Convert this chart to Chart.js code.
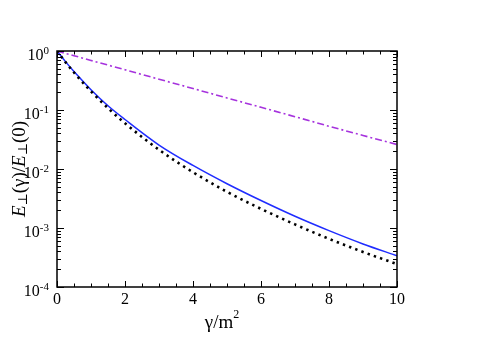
<!DOCTYPE html>
<html>
<head>
<meta charset="utf-8">
<script src="https://cdn.jsdelivr.net/npm/chart.js@4.4.0/dist/chart.umd.min.js"></script>
<style>
  html, body { margin: 0; padding: 0; background: #fff; }
  #wrap { width: 480px; height: 339px; position: relative; }
  #warm { position: absolute; left: -1000px; top: 0; font-family: "Liberation Serif"; }
</style>
</head>
<body>
<div id="wrap"><canvas id="chart" width="480" height="339"></canvas></div>
<div id="warm">10 γ/m <i>E</i> ⊥ (0)</div>
<script>
// gamma/m^2 sample positions
var gammas = [0, 0.25, 0.5, 1, 1.5, 2, 3, 4, 5, 6, 7, 8, 9, 10];
// E_perp(gamma)/E_perp(0)
var solidBlue = [1, 0.660, 0.448, 0.221, 0.118, 0.0690, 0.0255, 0.01148, 0.00562, 0.00292, 0.00158, 0.000902, 0.000537, 0.000339];
var dottedBlack = [1, 0.648, 0.432, 0.207, 0.1075, 0.0596, 0.0212, 0.00883, 0.00410, 0.00211, 0.00115, 0.000655, 0.000393, 0.000244];
var dashDotViolet = [1, 0.912, 0.833, 0.693, 0.577, 0.481, 0.333, 0.231, 0.160, 0.111, 0.077, 0.053, 0.037, 0.026];

var xTicks = [0, 2, 4, 6, 8, 10];
var yExponents = [0, -1, -2, -3, -4];

function pts(ys) {
  return gammas.map(function (g, i) { return { x: g, y: ys[i] }; });
}

var serif = '"Liberation Serif", "DejaVu Serif", serif';

var frame = {
  id: 'frame',
  afterDraw: function (chart) {
    var c = chart.ctx, a = chart.chartArea;
    var xs = chart.scales.x, ys = chart.scales.y;
    c.save();
    c.strokeStyle = '#000';
    c.lineWidth = 1.5;
    c.strokeRect(a.left, a.top, a.right - a.left, a.bottom - a.top);

    c.lineWidth = 1;
    // x ticks, every 0.5, major at even numbers
    for (var v = 0; v <= 10.001; v += 0.5) {
      var px = Math.round(xs.getPixelForValue(v)) + 0.5;
      var len = (v % 2 === 0) ? 6 : 3.5;
      c.beginPath();
      c.moveTo(px, a.bottom); c.lineTo(px, a.bottom - len);
      c.moveTo(px, a.top); c.lineTo(px, a.top + len);
      c.stroke();
    }
    // y ticks (log)
    for (var e = -4; e <= 0; e++) {
      for (var m = 1; m <= 9; m++) {
        if (e === 0 && m > 1) break;
        var py = Math.round(ys.getPixelForValue(m * Math.pow(10, e))) + 0.5;
        var l = m === 1 ? 7 : 4;
        c.beginPath();
        c.moveTo(a.left, py); c.lineTo(a.left + l, py);
        c.moveTo(a.right, py); c.lineTo(a.right - l, py);
        c.stroke();
      }
    }

    c.fillStyle = '#000';
    // x tick labels
    c.font = '16px ' + serif;
    c.textAlign = 'center';
    c.textBaseline = 'alphabetic';
    xTicks.forEach(function (t) {
      c.fillText(String(t), xs.getPixelForValue(t), a.bottom + 17);
    });
    // y tick labels 10^k
    yExponents.forEach(function (k) {
      var py = ys.getPixelForValue(Math.pow(10, k));
      var exp = k === 0 ? '0' : '-' + String(-k);
      c.font = '11px ' + serif;
      var ew = c.measureText(exp).width;
      c.textAlign = 'left';
      c.fillText(exp, a.left - 8 - ew, py + 3);
      c.font = '16px ' + serif;
      c.textAlign = 'right';
      c.fillText('10', a.left - 8 - ew, py + 9);
    });
    // x title
    c.font = '19px ' + serif;
    c.textAlign = 'left';
    var base = '\u03b3/m';
    var bw = c.measureText(base).width;
    var cx = 222;
    c.fillText(base, cx - bw / 2 - 3, 328);
    c.font = '12px ' + serif;
    c.fillText('2', cx + bw / 2 - 3, 318);

    // y title, rotated
    c.translate(19, (a.top + a.bottom) / 2);
    c.rotate(-Math.PI / 2);
    var parts = [
      ['italic 19px ' + serif, 'E', 0],
      ['13px ' + serif, '\u22a5', 4],
      ['19px ' + serif, '(\u03b3)/', 0],
      ['italic 19px ' + serif, 'E', 0],
      ['13px ' + serif, '\u22a5', 4],
      ['19px ' + serif, '(0)', 0]
    ];
    var total = 0;
    parts.forEach(function (p) { c.font = p[0]; total += c.measureText(p[1]).width; });
    var x0 = -total / 2;
    c.textAlign = 'left';
    c.textBaseline = 'middle';
    parts.forEach(function (p) {
      c.font = p[0];
      c.fillText(p[1], x0, p[2] + 1);
      x0 += c.measureText(p[1]).width;
    });
    c.restore();
  }
};

var ctx = document.getElementById('chart').getContext('2d');
var chart = new Chart(ctx, {
  type: 'line',
  data: {
    datasets: [
      {
        label: 'dash-dot',
        data: pts(dashDotViolet),
        borderColor: '#a633dd',
        borderWidth: 1.6,
        borderDash: [7, 3, 2, 3],
        pointRadius: 0,
        fill: false
      },
      {
        label: 'dotted',
        data: pts(dottedBlack),
        borderColor: '#000',
        borderWidth: 2.6,
        borderDash: [2.4, 4.2],
        pointRadius: 0,
        cubicInterpolationMode: 'monotone',
        fill: false
      },
      {
        label: 'solid',
        data: pts(solidBlue),
        borderColor: '#1f2cff',
        borderWidth: 1.5,
        pointRadius: 0,
        cubicInterpolationMode: 'monotone',
        fill: false
      }
    ]
  },
  options: {
    responsive: false,
    animation: false,
    events: [],
    layout: { padding: { left: 57, right: 83, top: 51, bottom: 52 } },
    plugins: { legend: { display: false }, tooltip: { enabled: false } },
    scales: {
      x: { type: 'linear', min: 0, max: 10, display: false },
      y: { type: 'logarithmic', min: 1e-4, max: 1, display: false }
    }
  },
  plugins: [frame]
});

if (document.fonts) {
  document.fonts.load('16px "Liberation Serif"').then(function () { chart.draw(); });
  document.fonts.load('italic 19px "Liberation Serif"').then(function () { chart.draw(); });
  document.fonts.ready.then(function () { chart.draw(); });
}
setTimeout(function () { chart.draw(); }, 100);
</script>
</body>
</html>
